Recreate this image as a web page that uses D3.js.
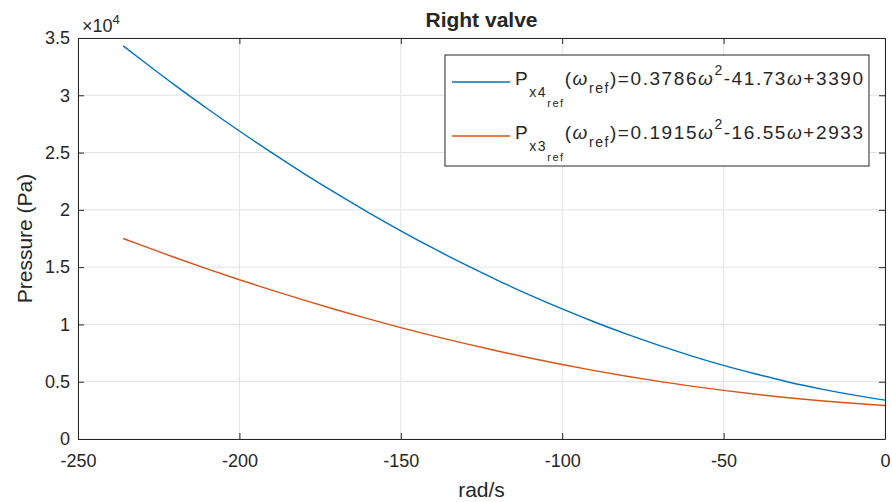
<!DOCTYPE html>
<html>
<head>
<meta charset="utf-8">
<script src="https://cdn.jsdelivr.net/npm/d3@7"></script>
<style>
  body { margin: 0; background: #fff; }
  text { font-family: "Liberation Sans", Arial, sans-serif; fill: #262626; }
</style>
</head>
<body>
<div id="chart-area"></div>
<script>
// values (rad/s -> Pa)
var omega = [-236, -230, -220, -210, -200, -190, -180, -170, -160, -150, -140, -130,
  -120, -110, -100, -90, -80, -70, -60, -50, -40, -30, -20, -10, 0];
var px4 = [34320, 33020, 30890, 28850, 26880, 24990, 23170, 21430, 19760, 18170, 16650, 15210,
  13850, 12560, 11350, 10210, 9150, 8170, 7260, 6420, 5670, 4980, 4380, 3850, 3390];
var px3 = [17500, 16870, 15840, 14850, 13900, 12990, 12120, 11280, 10480, 9720, 9000, 8320,
  7680, 7070, 6500, 5970, 5480, 5030, 4620, 4240, 3900, 3600, 3340, 3120, 2930];

var xTicks = [-250, -200, -150, -100, -50, 0];
var xTickLabels = ["-250", "-200", "-150", "-100", "-50", "0"];
var yTicks = [0, 5000, 10000, 15000, 20000, 25000, 30000, 35000];
var yTickLabels = ["0", "0.5", "1", "1.5", "2", "2.5", "3", "3.5"];

var seriesNames = [
  { p: "x4", eq: ")=0.3786", eq2: "-41.73", eq3: "+3390" },
  { p: "x3", eq: ")=0.1915", eq2: "-16.55", eq3: "+2933" }
];
var colors = ["#0072BD", "#D95319"];

var margin = { left: 78, right: 7, top: 38, bottom: 63 };
var width = 892 - margin.left - margin.right;
var height = 502 - margin.top - margin.bottom;

var svg = d3.select("#chart-area").append("svg")
  .attr("width", 892)
  .attr("height", 502);

var g = svg.append("g")
  .attr("transform", "translate(" + margin.left + "," + margin.top + ")");

var x = d3.scaleLinear().domain([-250, 0]).range([0, width]);
var y = d3.scaleLinear().domain([0, 35000]).range([height, 0]);

// grid
g.append("g").selectAll("line").data(xTicks).enter().append("line")
  .attr("x1", function(d) { return x(d); }).attr("x2", function(d) { return x(d); })
  .attr("y1", 0).attr("y2", height)
  .attr("stroke", "#e3e3e3").attr("stroke-width", 1);
g.append("g").selectAll("line").data(yTicks).enter().append("line")
  .attr("y1", function(d) { return y(d); }).attr("y2", function(d) { return y(d); })
  .attr("x1", 0).attr("x2", width)
  .attr("stroke", "#e3e3e3").attr("stroke-width", 1);

// axes, ticks pointing inward like matlab
var xAxisCall = d3.axisBottom(x).tickValues(xTicks).tickSizeInner(-6).tickSizeOuter(0).tickPadding(15)
  .tickFormat(function(d, i) { return xTickLabels[i]; });
var xAxisGroup = g.append("g").attr("transform", "translate(0," + height + ")").call(xAxisCall);
var yAxisCall = d3.axisLeft(y).tickValues(yTicks).tickSizeInner(-6).tickSizeOuter(0).tickPadding(8)
  .tickFormat(function(d, i) { return yTickLabels[i]; });
var yAxisGroup = g.append("g").call(yAxisCall);
var topAxis = g.append("g").call(d3.axisTop(x).tickValues(xTicks).tickSizeInner(-6).tickSizeOuter(0).tickFormat(""));
var rightAxis = g.append("g").attr("transform", "translate(" + width + ",0)")
  .call(d3.axisRight(y).tickValues(yTicks).tickSizeInner(-6).tickSizeOuter(0).tickFormat(""));

[xAxisGroup, yAxisGroup, topAxis, rightAxis].forEach(function(a) {
  a.select(".domain").attr("stroke", "#262626");
  a.selectAll(".tick line").attr("stroke", "#262626");
  a.selectAll("text").attr("font-size", "18px").attr("fill", "#262626")
    .attr("font-family", "Liberation Sans, Arial, sans-serif");
});

// lines
var line = d3.line()
  .x(function(d) { return x(d[0]); })
  .y(function(d) { return y(d[1]); })
  .curve(d3.curveMonotoneX);

[px4, px3].forEach(function(vals, i) {
  g.append("path")
    .datum(omega.map(function(w, j) { return [w, vals[j]]; }))
    .attr("fill", "none")
    .attr("stroke", colors[i])
    .attr("stroke-width", 1.4)
    .attr("d", line);
});

// exponent
var expo = g.append("text").attr("x", 4).attr("y", -6).attr("font-size", "18px");
expo.append("tspan").text("\u00d710");
expo.append("tspan").attr("font-size", "13px").attr("dy", -8).text("4");

// title
g.append("text")
  .attr("x", width / 2).attr("y", -11)
  .attr("text-anchor", "middle")
  .attr("font-size", "21px").attr("font-weight", "bold")
  .attr("fill", "#000")
  .text("Right valve");

// axis labels
g.append("text")
  .attr("x", width / 2).attr("y", height + 58)
  .attr("text-anchor", "middle")
  .attr("font-size", "21px")
  .text("rad/s");
g.append("text")
  .attr("transform", "rotate(-90)")
  .attr("x", -height / 2).attr("y", -46)
  .attr("text-anchor", "middle")
  .attr("font-size", "21px")
  .text("Pressure (Pa)");

// legend
var lg = g.append("g").attr("transform", "translate(" + (445 - margin.left) + "," + (55 - margin.top) + ")");
lg.append("rect")
  .attr("width", 424).attr("height", 111)
  .attr("fill", "#fff").attr("stroke", "#262626").attr("stroke-width", 1);

seriesNames.forEach(function(s, i) {
  var yy = 30 + i * 54;
  lg.append("line")
    .attr("x1", 7).attr("x2", 65)
    .attr("y1", yy - 3).attr("y2", yy - 3)
    .attr("stroke", colors[i]).attr("stroke-width", 1.4);
  var t = lg.append("text").attr("x", 70).attr("y", yy).attr("font-size", "19px").attr("fill", "#000")
    .attr("textLength", 348).attr("lengthAdjust", "spacing");
  t.append("tspan").text("P");
  t.append("tspan").attr("font-size", "14px").attr("dy", 12).text(s.p);
  t.append("tspan").attr("font-size", "11px").attr("dy", 10).text("ref");
  t.append("tspan").attr("dy", -22).text("(");
  t.append("tspan").attr("font-style", "italic").text("\u03c9");
  t.append("tspan").attr("font-size", "14px").attr("dy", 8).text("ref");
  t.append("tspan").attr("dy", -8).text(s.eq);
  t.append("tspan").attr("font-style", "italic").text("\u03c9");
  t.append("tspan").attr("font-size", "14px").attr("dy", -10).text("2");
  t.append("tspan").attr("dy", 10).text(s.eq2);
  t.append("tspan").attr("font-style", "italic").text("\u03c9");
  t.append("tspan").text(s.eq3);
});
</script>
</body>
</html>
